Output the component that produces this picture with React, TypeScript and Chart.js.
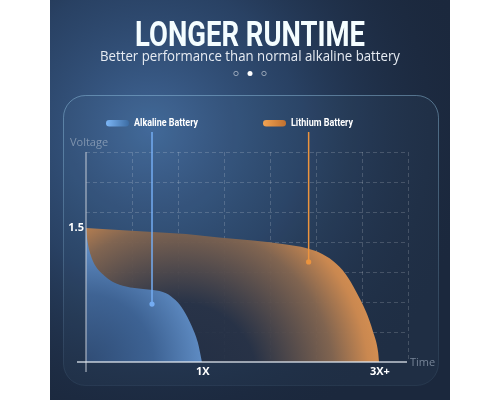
import { useEffect, useRef } from 'react';
import { Chart, registerables } from 'chart.js';

Chart.register(...registerables);

const TITLE = 'LONGER RUNTIME';
const SUBTITLE = 'Better performance than normal alkaline battery';
const SERIES_NAMES = ['Alkaline Battery', 'Lithium Battery'];
const Y_TITLE = 'Voltage';
const X_TITLE = 'Time';

// time in grid units, voltage in V
const alkalineTime = [0, 0.03, 0.1, 0.2, 0.37, 0.587, 0.87, 1.24, 1.457, 1.74, 1.95, 2.12, 2.3, 2.43, 2.52];
const alkalineVolt = [1.5, 1.36, 1.2, 1.08, 0.98, 0.896, 0.845, 0.817, 0.806, 0.77, 0.69, 0.58, 0.4, 0.22, 0];
const lithiumTime = [0, 0.717, 1.457, 2.174, 2.89, 3.63, 4.35, 4.78, 5.07, 5.37, 5.65, 5.87, 6.09, 6.24, 6.35, 6.37];
const lithiumVolt = [1.5, 1.478, 1.455, 1.433, 1.395, 1.36, 1.315, 1.276, 1.225, 1.13, 0.98, 0.79, 0.56, 0.34, 0.112, 0];

// marker callouts: [time, lowVolt, highVolt]
const alkalineMarker = [1.435, 0.649, 2.575];
const lithiumMarker = [4.84, 1.12, 2.575];

const X_MAX = 7;
const Y_MAX = 2.351;
const X_TICK_VALUES = [2.54, 6.39];
const X_TICK_LABELS = ['1X', '3X+'];
const Y_TICK_VALUES = [1.5];
const Y_TICK_LABELS = ['1.5'];

const BOLD = 'Roboto, "DejaVu Sans", sans-serif';
const SANS = '"Open Sans", "Noto Sans", sans-serif';

function fitText(ctx: any, text: string, x: number, y: number, width: number, align: 'left' | 'center') {
  const w = ctx.measureText(text).width;
  const s = width / w;
  ctx.save();
  ctx.translate(x, y);
  ctx.scale(s, 1);
  ctx.textAlign = align;
  ctx.fillText(text, 0, 0);
  ctx.restore();
}

const decorPlugin = {
  id: 'decor',
  beforeDraw(chart: any) {
    const { ctx } = chart;
    ctx.save();
    ctx.fillStyle = '#ffffff';
    ctx.fillRect(0, 0, 500, 400);
    ctx.fillStyle = '#1b283d';
    ctx.fillRect(50, 0, 400, 400);
    const g = ctx.createRadialGradient(150, 130, 0, 150, 130, 330);
    g.addColorStop(0, 'rgba(66,105,155,0.95)');
    g.addColorStop(0.45, 'rgba(50,82,125,0.6)');
    g.addColorStop(1, 'rgba(27,40,61,0)');
    ctx.fillStyle = g;
    ctx.fillRect(50, 0, 400, 400);
    // panel
    ctx.beginPath();
    ctx.roundRect(63.5, 95.5, 375, 290, 22);
    ctx.fillStyle = 'rgba(120,170,220,0.05)';
    ctx.fill();
    const sg = ctx.createLinearGradient(0, 95, 0, 385);
    sg.addColorStop(0, 'rgba(150,200,230,0.45)');
    sg.addColorStop(1, 'rgba(150,200,230,0.08)');
    ctx.strokeStyle = sg;
    ctx.lineWidth = 1;
    ctx.stroke();
    // title
    ctx.font = `bold 35px ${BOLD}`;
    ctx.textBaseline = 'alphabetic';
    const tg = ctx.createLinearGradient(0, 20, 0, 47);
    tg.addColorStop(0, '#f4fdff');
    tg.addColorStop(1, '#4ccfe0');
    ctx.fillStyle = tg;
    fitText(ctx, TITLE, 250, 46, 230, 'center');
    ctx.font = `14px ${SANS}`;
    ctx.fillStyle = '#e6ebf2';
    ctx.textBaseline = 'middle';
    fitText(ctx, SUBTITLE, 250, 57, 300, 'center');
    // pager dots
    [236, 250, 264].forEach((x, i) => {
      ctx.beginPath();
      ctx.arc(x, 73.5, i === 1 ? 2.5 : 2.2, 0, Math.PI * 2);
      if (i === 1) {
        ctx.fillStyle = '#ffffff';
        ctx.fill();
      } else {
        ctx.strokeStyle = 'rgba(255,255,255,0.6)';
        ctx.lineWidth = 0.8;
        ctx.stroke();
      }
    });
    ctx.restore();
  },
  afterDatasetsDraw(chart: any) {
    const { ctx, chartArea } = chart;
    const { left, right, top, bottom } = chartArea;
    ctx.save();
    // axes
    ctx.strokeStyle = 'rgba(200,206,216,0.65)';
    ctx.lineWidth = 1.5;
    ctx.beginPath();
    ctx.moveTo(left, top);
    ctx.lineTo(left, bottom + 10);
    ctx.stroke();
    ctx.strokeStyle = 'rgba(225,230,238,0.85)';
    ctx.beginPath();
    ctx.moveTo(left - 9, bottom);
    ctx.lineTo(right - 1, bottom);
    ctx.stroke();
    // axis titles
    ctx.font = `11px ${SANS}`;
    ctx.fillStyle = 'rgba(175,188,205,0.6)';
    ctx.textBaseline = 'middle';
    ctx.textAlign = 'left';
    ctx.fillText(Y_TITLE, left - 16, top - 9);
    ctx.fillText(X_TITLE, right + 2, bottom + 1);
    // legend
    const items = [
      { x: 106, c1: '#7cb6f6', c2: '#3c6ca3', w: 64 },
      { x: 263, c1: '#f2a352', c2: '#c0702f', w: 62 },
    ];
    items.forEach((it, i) => {
      const lg = ctx.createLinearGradient(it.x, 0, it.x + 23, 0);
      lg.addColorStop(0, it.c1);
      lg.addColorStop(1, it.c2);
      ctx.beginPath();
      ctx.roundRect(it.x, 120, 23, 6.5, 3.25);
      ctx.fillStyle = lg;
      ctx.fill();
      ctx.font = `bold 11.5px ${BOLD}`;
      ctx.fillStyle = '#ffffff';
      fitText(ctx, SERIES_NAMES[i], it.x + 28, 123.5, it.w, 'left');
    });
    ctx.restore();
  },
};

function alkalineFill(c: any) {
  const { chart } = c;
  const a = chart.chartArea;
  if (!a) return 'rgba(80,130,190,0.8)';
  const g = chart.ctx.createRadialGradient(a.left, a.bottom, 0, a.left, a.bottom, 135);
  g.addColorStop(0, 'rgba(48,78,120,0.95)');
  g.addColorStop(0.5, 'rgba(62,100,150,0.97)');
  g.addColorStop(1, 'rgba(108,156,214,1)');
  return g;
}

function lithiumFill(c: any) {
  const { chart } = c;
  const a = chart.chartArea;
  if (!a) return 'rgba(200,140,80,0.8)';
  const cx = a.left + 94;
  const cy = a.bottom + 18;
  const g = chart.ctx.createRadialGradient(cx, cy, 0, cx, cy, 220);
  g.addColorStop(0, 'rgba(34,46,68,0.92)');
  g.addColorStop(0.35, 'rgba(40,50,70,0.92)');
  g.addColorStop(0.7, 'rgba(132,102,80,0.96)');
  g.addColorStop(0.86, 'rgba(202,136,80,1)');
  g.addColorStop(1, 'rgba(226,152,84,1)');
  return g;
}

const toPts = (xs: number[], ys: number[]) => xs.map((x, i) => ({ x, y: ys[i] }));

export default function App() {
  const ref = useRef<HTMLCanvasElement>(null);
  useEffect(() => {
    if (!ref.current) return;
    const gridColor = (ctx: any, hidden: number[]) => {
      const v = ctx.tick ? ctx.tick.value : 0;
      if (v === 0 || hidden.includes(v)) return 'rgba(0,0,0,0)';
      return 'rgba(255,255,255,0.17)';
    };
    const chart = new Chart(ref.current, {
      type: 'line',
      data: {
        datasets: [
          {
            label: SERIES_NAMES[0],
            data: toPts(alkalineTime, alkalineVolt),
            fill: 'origin',
            backgroundColor: alkalineFill,
            borderWidth: 0,
            pointRadius: 0,
            cubicInterpolationMode: 'monotone',
          },
          {
            label: SERIES_NAMES[1],
            data: toPts(lithiumTime, lithiumVolt),
            fill: 'origin',
            backgroundColor: lithiumFill,
            borderWidth: 0,
            pointRadius: 0,
            cubicInterpolationMode: 'monotone',
          },
          {
            label: 'alkaline marker',
            data: [
              { x: alkalineMarker[0], y: alkalineMarker[1] },
              { x: alkalineMarker[0], y: alkalineMarker[2] },
            ],
            borderColor: '#74acf2',
            backgroundColor: '#74acf2',
            borderWidth: 1.5,
            pointRadius: 2.6,
            pointBorderWidth: 0,
            fill: false,
            clip: false,
            order: -1,
          },
          {
            label: 'lithium marker',
            data: [
              { x: lithiumMarker[0], y: lithiumMarker[1] },
              { x: lithiumMarker[0], y: lithiumMarker[2] },
            ],
            borderColor: '#ec943e',
            backgroundColor: '#ec943e',
            borderWidth: 1.5,
            pointRadius: 2.6,
            pointBorderWidth: 0,
            fill: false,
            clip: false,
            order: -1,
          },
        ],
      } as any,
      options: {
        responsive: false,
        animation: false,
        devicePixelRatio: 1,
        layout: { padding: { left: 66, right: 92, top: 152, bottom: 0 } },
        plugins: { legend: { display: false }, tooltip: { enabled: false }, title: { display: false } },
        events: [],
        scales: {
          x: {
            type: 'linear',
            min: 0,
            max: X_MAX,
            z: 1,
            afterBuildTicks: (s: any) => {
              const t = [0, 1, 2, 3, 4, 5, 6, 7, ...X_TICK_VALUES].sort((a, b) => a - b);
              s.ticks = t.map((value) => ({ value }));
            },
            afterFit: (s: any) => {
              s.height = 38;
            },
            ticks: {
              autoSkip: false,
              maxRotation: 0,
              padding: 3,
              color: '#ffffff',
              font: { family: SANS, size: 11, weight: 'bold' },
              callback: (v: any) => {
                const i = X_TICK_VALUES.indexOf(Number(v));
                return i >= 0 ? X_TICK_LABELS[i] : '';
              },
            },
            grid: {
              drawTicks: false,
              lineWidth: 1,
              color: (ctx: any) => gridColor(ctx, X_TICK_VALUES),
            },
            border: { display: false, dash: [4, 3] },
          },
          y: {
            type: 'linear',
            min: 0,
            max: Y_MAX,
            z: 1,
            afterBuildTicks: (s: any) => {
              const t: number[] = [];
              for (let k = 0; k <= 7; k++) t.push((Y_MAX * k) / 7);
              t.push(...Y_TICK_VALUES);
              t.sort((a, b) => a - b);
              s.ticks = t.map((value) => ({ value }));
            },
            afterFit: (s: any) => {
              s.width = 20;
            },
            ticks: {
              autoSkip: false,
              padding: 2,
              color: '#ffffff',
              font: { family: SANS, size: 11, weight: 'bold' },
              callback: (v: any) => {
                const i = Y_TICK_VALUES.indexOf(Number(v));
                return i >= 0 ? Y_TICK_LABELS[i] : '';
              },
            },
            grid: {
              drawTicks: false,
              lineWidth: 1,
              color: (ctx: any) => gridColor(ctx, Y_TICK_VALUES),
            },
            border: { display: false, dash: [4, 3] },
          },
        },
      } as any,
      plugins: [decorPlugin],
    });
    return () => chart.destroy();
  }, []);
  return (
    <div style={{ position: 'fixed', left: 0, top: 0, width: 500, height: 400 }}>
      <canvas ref={ref} width={500} height={400} />
    </div>
  );
}
